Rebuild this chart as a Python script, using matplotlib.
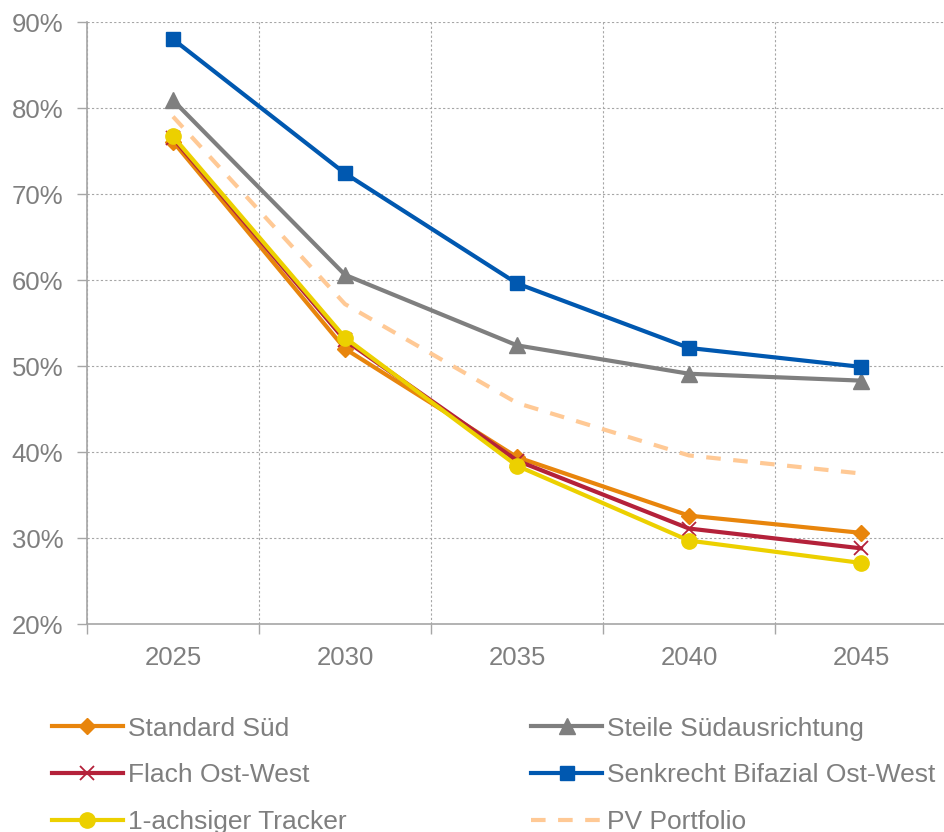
import matplotlib
matplotlib.use("Agg")
import matplotlib.pyplot as plt
from matplotlib.ticker import FixedLocator, PercentFormatter

plt.rcParams['font.family'] = ['Liberation Sans', 'DejaVu Sans']

years = ["2025", "2030", "2035", "2040", "2045"]
standard_sued = [76.1, 52.0, 39.4, 32.6, 30.6]
steile_sued = [80.9, 60.6, 52.4, 49.1, 48.3]
flach_ost_west = [76.5, 53.0, 39.0, 31.1, 28.8]
senkrecht_bifazial = [88.0, 72.4, 59.6, 52.1, 49.9]
tracker = [76.7, 53.3, 38.4, 29.7, 27.1]
pv_portfolio = [79.0, 57.2, 45.7, 39.6, 37.5]
y_ticks = [20, 30, 40, 50, 60, 70, 80, 90]

TEXT = "#7f7f7f"
GRID = "#a6a6a6"
FS = 18.5
LEG_FS = 19

fig = plt.figure(figsize=(9.44, 8.32), dpi=100)
ax = fig.add_axes([87 / 944, 1 - 624 / 832, 860 / 944, 602 / 832])

x = list(range(len(years)))
lw = 3.0
series = [
    ("Standard Süd", standard_sued, dict(color="#e8850c", marker="D", ms=8.5)),
    ("Steile Südausrichtung", steile_sued, dict(color="#7f7f7f", marker="^", ms=11)),
    ("Flach Ost-West", flach_ost_west, dict(color="#b4213a", marker="x", ms=10, mew=1.3)),
    ("Senkrecht Bifazial Ost-West", senkrecht_bifazial, dict(color="#0058b0", marker="s", ms=10.5)),
    ("1-achsiger Tracker", tracker, dict(color="#ecd000", marker="o", ms=11)),
    ("PV Portfolio", pv_portfolio, dict(color="#ffc995", linestyle=(0, (3.5, 3)))),
]
handles = {}
for name, vals, style in series:
    ln, = ax.plot(x, vals, lw=lw, label=name, solid_joinstyle="round",
                  clip_on=False, **style)
    handles[name] = ln

ax.set_xlim(-0.5, 4.5)
ax.set_ylim(20, 90)

ax.set_xticks(x)
ax.set_xticklabels(years)
ax.xaxis.set_minor_locator(FixedLocator([i - 0.5 for i in range(len(years) + 1)]))
ax.tick_params(axis="x", which="major", length=0, pad=16, labelsize=FS, labelcolor=TEXT)
ax.tick_params(axis="x", which="minor", length=7, width=1, color=GRID, direction="out")

ax.set_yticks(y_ticks)
ax.yaxis.set_major_formatter(PercentFormatter(decimals=0))
ax.tick_params(axis="y", which="major", length=7, width=1, color=GRID, pad=10,
               labelsize=FS, labelcolor=TEXT)

ax.grid(True, axis="y", which="major", color=GRID, linestyle=(0, (2, 2)), lw=0.8)
ax.grid(True, axis="x", which="minor", color=GRID, linestyle=(0, (2, 2)), lw=0.8)
ax.set_axisbelow(True)

for side in ("top", "right"):
    ax.spines[side].set_visible(False)
for side in ("left", "bottom"):
    ax.spines[side].set_color(GRID)
    ax.spines[side].set_linewidth(1.2)

order = ["Standard Süd", "Flach Ost-West", "1-achsiger Tracker",
         "Steile Südausrichtung", "Senkrecht Bifazial Ost-West", "PV Portfolio"]
leg = fig.legend([handles[n] for n in order], order, ncol=2,
                 loc="upper left", bbox_to_anchor=(41 / 944, 1 - 706 / 832),
                 frameon=False, fontsize=LEG_FS, handlelength=2.7, handletextpad=0.19,
                 columnspacing=7.0, labelspacing=0.86, borderaxespad=0)
for t in leg.get_texts():
    t.set_color(TEXT)

fig.savefig("out.png", dpi=100)
